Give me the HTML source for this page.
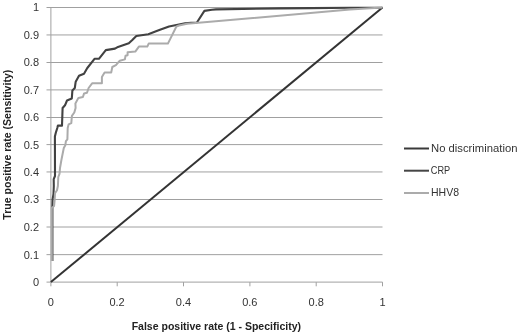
<!DOCTYPE html>
<html><head><meta charset="utf-8">
<style>
html,body{margin:0;padding:0;background:#fff;}
body{width:520px;height:335px;overflow:hidden;position:relative;font-family:"Liberation Sans",sans-serif;}
svg{position:absolute;left:0;top:0;}
text{font-family:"Liberation Sans",sans-serif;fill:#333;}
.t{font-size:11px;}
.l{font-size:10.5px;}
.b{font-size:10px;font-weight:bold;fill:#222;}
</style></head><body>
<svg width="520" height="335" viewBox="0 0 520 335">
<rect width="520" height="335" fill="#fff"/>
<g stroke="#a0a0a0" stroke-width="1" fill="none">
<path d="M46.5 7.5H382.5M46.5 34.95H382.5M46.5 62.5H382.5M46.5 89.9H382.5M46.5 117.5H382.5M46.5 144.6H382.5M46.5 171.95H382.5M46.5 199.5H382.5M46.5 227.0H382.5M46.5 254.65H382.5M46.5 282.1H382.5"/>
<path d="M50.9 7V286.3M117.2 282.1V286.3M183.5 282.1V286.3M249.9 282.1V286.3M316.2 282.1V286.3M382.5 282.1V286.3"/>
</g>
<g fill="none" stroke-linejoin="round" stroke-linecap="butt">
<path id="nd" d="M50.9 282.1L382.5 7.5" stroke="#333" stroke-width="2"/>
<path id="crp" d="M52.4 261V207.6L52.4 206L52.6 199.4L53.5 193.8L53.8 186L53.7 179.2L55 176L54.9 136.4L55.8 132.8L57.3 128L57.9 125.6H62L62.6 108L65 105.3L67 100.5L71.8 98.5L72.4 90.4L74.8 88L75.7 81.7L79 75.8L84 73.7L87.3 68L94.5 58.8H98.9L105.8 50.1L115 48.6L118 46.9L128.8 43.3L132.3 40L136.3 36L148.3 34.2L156 31.3L160 29.8L169 26.5L185.1 23.3L191 22.7L196.9 22.5L204.4 10.9L211.9 9.7L216 9.4L280 8.4L311 8.1L350 7.7L382.5 7.7" stroke="#424242" stroke-width="2.1"/>
<path id="hhv" d="M51.8 261V208L54.1 206L54.7 199.4L55 193.2L57 190.2L57.9 186L58.3 177L59.5 173.8L60 168L61.4 160L63.8 148L65.3 145.3L65.9 141.1L67.4 139.3L67.7 128L68.6 124.4L71.3 123.2L71.9 115.8L74.3 112.5L75.6 108L75.4 103.5L78.4 97.9L82.9 97L84.1 93.4L87 92.8L88.6 88L92.1 83.3H101.9V77L104.6 72.6H111.2L112.3 67L115.9 65.2L119.8 60.7L124.9 59.4L125.5 55.8L127.6 55.2V52.2L135.3 51.6L138.9 46.6H147.3L148.8 43.4L167.9 43.6L176.4 26.5L179 25.5L187 23.8L350 9.6L382.5 7.5" stroke="#ababab" stroke-width="2"/>
</g>
<g class="t" text-anchor="end">
<text x="39" y="11.4">1</text>
<text x="39" y="38.9">0.9</text>
<text x="39" y="66.4">0.8</text>
<text x="39" y="93.8">0.7</text>
<text x="39" y="121.4">0.6</text>
<text x="39" y="148.5">0.5</text>
<text x="39" y="175.8">0.4</text>
<text x="39" y="203.4">0.3</text>
<text x="39" y="230.9">0.2</text>
<text x="39" y="258.6">0.1</text>
<text x="39" y="286.0">0</text>
</g>
<g class="t" text-anchor="middle">
<text x="50.8" y="305.5">0</text>
<text x="117.1" y="305.5">0.2</text>
<text x="183.5" y="305.5">0.4</text>
<text x="249.8" y="305.5">0.6</text>
<text x="316.2" y="305.5">0.8</text>
<text x="382.5" y="305.5">1</text>
</g>
<text class="b" x="216.35" y="329.6" text-anchor="middle" textLength="169.3" lengthAdjust="spacingAndGlyphs">False positive rate (1 - Specificity)</text>
<text class="b" transform="translate(11,144.7) rotate(-90)" text-anchor="middle" textLength="150" lengthAdjust="spacingAndGlyphs">True positive rate (Sensitivity)</text>
<g stroke-width="2" fill="none">
<path d="M404 148.5H429" stroke="#3a3a3a"/>
<path d="M404 170.7H429" stroke="#454545"/>
<path d="M404 193H429" stroke="#ababab"/>
</g>
<g class="l">
<text x="431" y="152.1" textLength="86.5" lengthAdjust="spacingAndGlyphs">No discrimination</text>
<text x="430.8" y="174.2" textLength="19.4" lengthAdjust="spacingAndGlyphs">CRP</text>
<text x="431" y="196.3" textLength="28" lengthAdjust="spacingAndGlyphs">HHV8</text>
</g>
</svg>
</body></html>
